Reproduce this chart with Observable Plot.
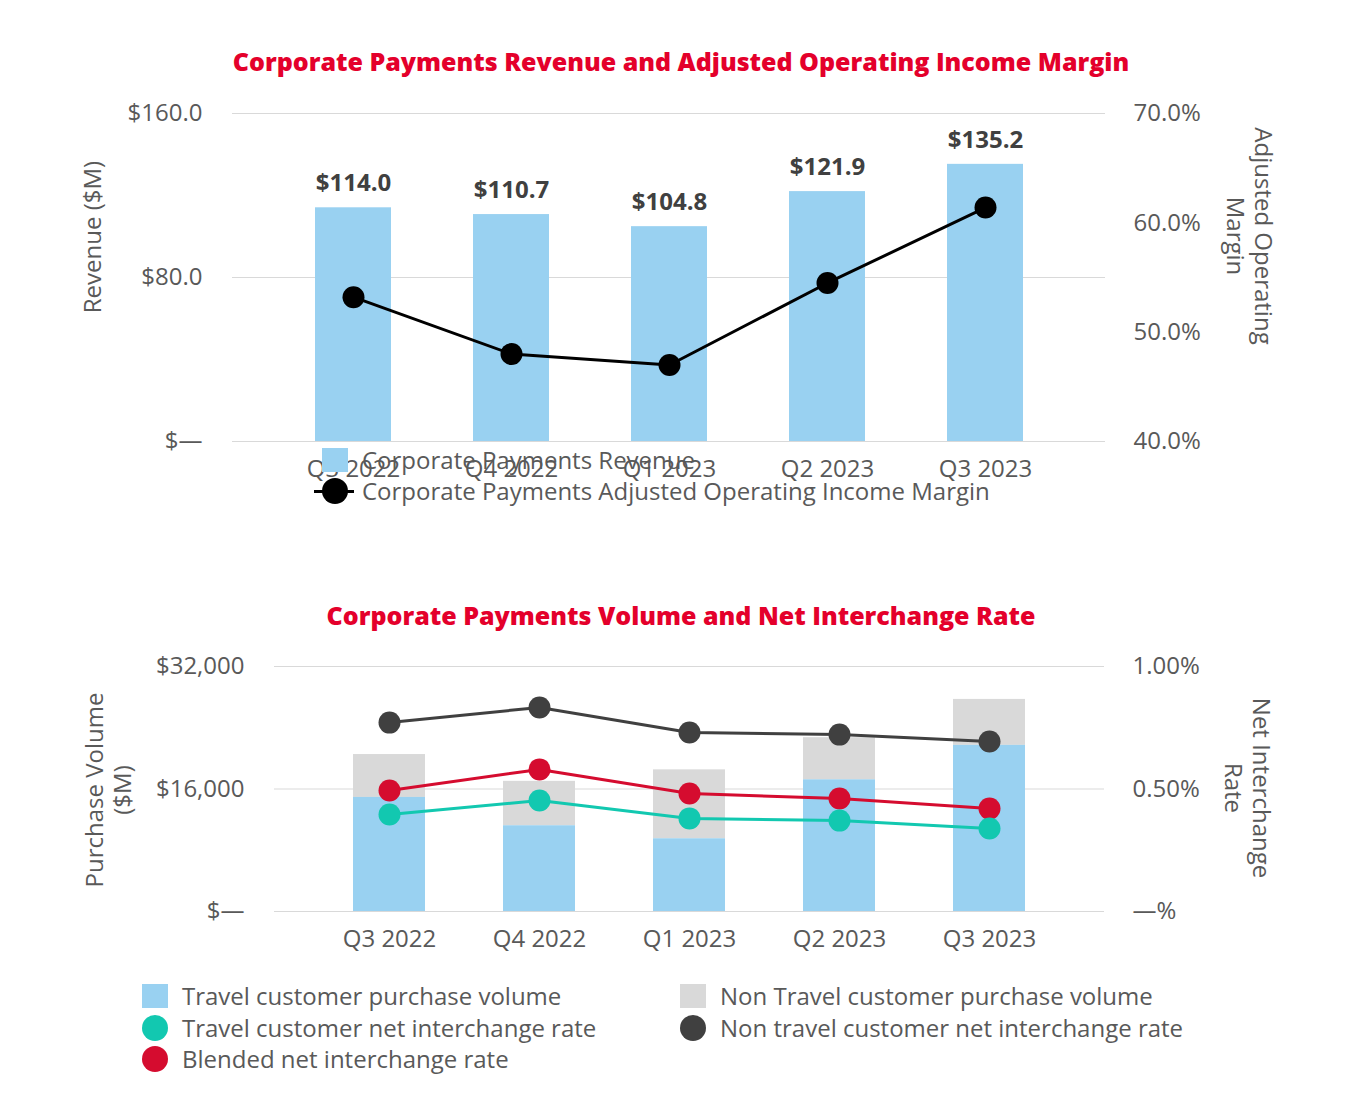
<!DOCTYPE html>
<html><head><meta charset="utf-8">
<script src="https://cdn.jsdelivr.net/npm/d3@7"></script>
<script src="https://cdn.jsdelivr.net/npm/@observablehq/plot@0.6"></script>
<style>
body{margin:0;background:#fff;font-family:"Open Sans",sans-serif;color:#595959;}
#root{position:relative;width:1362px;height:1100px;}
.abs{position:absolute;}
.title{color:#e4002b;font-weight:800;font-size:25px;text-align:center;width:1362px;left:0;}
.lab{font-size:24px;color:#595959;white-space:nowrap;line-height:28px;text-align:center;}
.leg{font-size:24px;color:#595959;white-space:nowrap;display:flex;align-items:center;height:31px;}
.sw{width:26px;height:24px;margin-right:14px;}
.dot{width:26px;height:26px;border-radius:50%;margin-right:14px;}
</style></head><body><div id="root"></div>
<script>
const quarters=["Q3 2022","Q4 2022","Q1 2023","Q2 2023","Q3 2023"];
const revenue=[114.0,110.7,104.8,121.9,135.2];
const margin=[53.2,48.0,47.0,54.5,61.4];
const travelVol=[14900,11200,9500,17200,21700];
const totalVol=[20500,17000,18500,22700,27700];
const travelRate=[0.396,0.453,0.380,0.371,0.339];
const nonTravelRate=[0.771,0.833,0.731,0.722,0.694];
const blendedRate=[0.494,0.580,0.482,0.461,0.420];

const root=document.getElementById("root");
function add(html,cls,style){const d=document.createElement("div");d.className="abs "+cls;d.style.cssText=style;d.innerHTML=html;root.appendChild(d);return d;}
const font="Open Sans";
// Top chart
add("Corporate Payments Revenue and Adjusted Operating Income Margin","title","top:44px;");
const mToY=m=>(m-40)/30*160;
const topData=quarters.map((q,i)=>({q,rev:revenue[i],m:mToY(margin[i])}));
const p1=Plot.plot({width:1362,height:420,marginTop:33,marginBottom:59,marginLeft:232,marginRight:257,
 style:{fontFamily:font,fontSize:"24px",color:"#595959",overflow:"visible"},
 x:{domain:quarters,padding:0.52,label:null},
 y:{domain:[0,160],label:null},
 marks:[
  Plot.gridY([0,80,160],{stroke:"#d9d9d9",strokeOpacity:1}),
  Plot.barY(topData,{x:"q",y:"rev",fill:"#99d1f1"}),
  Plot.text(topData,{x:"q",y:"rev",text:d=>"$"+d.rev.toFixed(1),dy:-24,fontWeight:"bold",fill:"#404040",fontSize:24}),
  Plot.line(topData,{x:"q",y:"m",stroke:"#000",strokeWidth:3}),
  Plot.dot(topData,{x:"q",y:"m",r:11,fill:"#000"}),
  Plot.axisY([0,80,160],{tickFormat:d=>d===0?"$—":"$"+d.toFixed(1),tickSize:0,tickPadding:30,fontSize:24}),
  Plot.axisY([0,1,2,3].map(i=>i*160/3),{anchor:"right",tickFormat:(d,i)=>(40+i*10).toFixed(1)+"%",tickSize:0,tickPadding:28,fontSize:24}),
  Plot.axisX({tickSize:0,tickPadding:18,fontSize:24})
 ]});
p1.style.position="absolute";p1.style.top="80px";p1.style.left="0";root.appendChild(p1);
add("Revenue ($M)","lab","left:92px;top:237px;transform:translate(-50%,-50%) rotate(-90deg);");
add("Adjusted Operating<br>Margin","lab","left:1250px;top:236px;transform:translate(-50%,-50%) rotate(90deg);");
add('<div class="sw" style="background:#99d1f1"></div>Corporate Payments Revenue',"leg","left:322px;top:444px;");
add('<div style="position:relative;width:40px;height:26px;margin-right:8px;margin-left:-8px"><div style="position:absolute;top:12px;left:0;width:40px;height:3px;background:#000"></div><div style="position:absolute;left:8px;top:0;width:26px;height:26px;border-radius:50%;background:#000"></div></div>Corporate Payments Adjusted Operating Income Margin',"leg","left:322px;top:475px;");

// Bottom chart
add("Corporate Payments Volume and Net Interchange Rate","title","top:598px;");
const rToY=r=>r*32000;
const bot=quarters.map((q,i)=>({q,tv:travelVol[i],tot:totalVol[i],tr:rToY(travelRate[i]),nr:rToY(nonTravelRate[i]),br:rToY(blendedRate[i])}));
const lineDot=(k,c)=>[Plot.line(bot,{x:"q",y:k,stroke:c,strokeWidth:3}),Plot.dot(bot,{x:"q",y:k,r:11,fill:c})];
const p2=Plot.plot({width:1362,height:320,marginTop:26,marginBottom:49,marginLeft:274,marginRight:258,
 style:{fontFamily:font,fontSize:"24px",color:"#595959",overflow:"visible"},
 x:{domain:quarters,padding:0.52,label:null},
 y:{domain:[0,32000],label:null},
 marks:[
  Plot.gridY([0,16000,32000],{stroke:"#d9d9d9",strokeOpacity:1}),
  Plot.barY(bot,{x:"q",y1:"tv",y2:"tot",fill:"#d9d9d9"}),
  Plot.barY(bot,{x:"q",y:"tv",fill:"#99d1f1"}),
  ...lineDot("nr","#404040"),
  ...lineDot("br","#d50c2f"),
  ...lineDot("tr","#12c8b0"),
  Plot.axisY([0,16000,32000],{tickFormat:d=>d===0?"$—":"$"+d3.format(",")(d),tickSize:0,tickPadding:30,fontSize:24}),
  Plot.axisY([0,16000,32000],{anchor:"right",tickFormat:(d,i)=>["—%","0.50%","1.00%"][i],tickSize:0,tickPadding:28,fontSize:24}),
  Plot.axisX({tickSize:0,tickPadding:18,fontSize:24})
 ]});
p2.style.position="absolute";p2.style.top="640px";p2.style.left="0";root.appendChild(p2);
add("Purchase Volume<br>($M)","lab","left:108px;top:790px;transform:translate(-50%,-50%) rotate(-90deg);");
add("Net Interchange<br>Rate","lab","left:1248px;top:788px;transform:translate(-50%,-50%) rotate(90deg);");
add('<div class="sw" style="background:#99d1f1"></div>Travel customer purchase volume',"leg","left:142px;top:980px;");
add('<div class="sw" style="background:#d9d9d9"></div>Non Travel customer purchase volume',"leg","left:680px;top:980px;");
add('<div class="dot" style="background:#12c8b0"></div>Travel customer net interchange rate',"leg","left:142px;top:1012px;");
add('<div class="dot" style="background:#404040"></div>Non travel customer net interchange rate',"leg","left:680px;top:1012px;");
add('<div class="dot" style="background:#d50c2f"></div>Blended net interchange rate',"leg","left:142px;top:1043px;");
</script></body></html>
